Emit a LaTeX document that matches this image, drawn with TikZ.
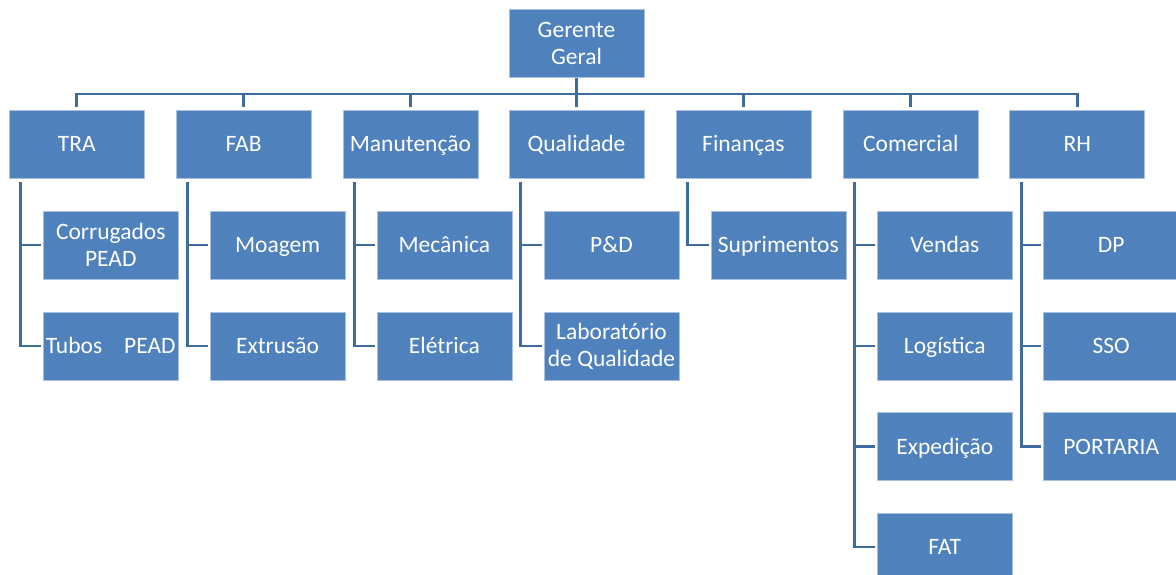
\documentclass[tikz,border=0pt]{standalone}
\usepackage{fontspec}
\setmainfont{Carlito}
\definecolor{boxblue}{HTML}{4F81BD}
\definecolor{boxedge}{HTML}{A9C0DE}
\definecolor{linkblue}{HTML}{3F6C9F}
\begin{document}
\begin{tikzpicture}[x=1pt,y=-1pt,
  orgbase/.style={rectangle, fill=boxblue, draw=boxedge, line width=0.8pt,
    minimum width=135pt, minimum height=68pt, inner sep=0pt, align=center,
    text=white, font=\fontsize{23.5}{27}\selectfont},
  orgbox/.style={orgbase, text height=20pt, text depth=5pt},
  orgtwo/.style={orgbase},
  conn/.style={draw=linkblue, line width=2.9pt},
  up/.style={shorten >=3pt},
  side/.style={shorten <=3pt, shorten >=2pt}]
\useasboundingbox (0,0) rectangle (1176,575);
\clip (0,0) rectangle (1176,575);
\coordinate (busy) at (0,94);
% nodes
\node[orgtwo] (g) at (576.5,43.8) {Gerente\\Geral};
\node[orgbox] (tra) at (76.8,144.5) {TRA};
\node[orgbox] (fab) at (243.6,144.5) {FAB};
\node[orgbox] (man) at (410.4,144.5) {Manutenção};
\node[orgbox] (qua) at (576.5,144.5) {Qualidade};
\node[orgbox] (fin) at (743.4,144.5) {Finanças};
\node[orgbox] (com) at (910.8,144.5) {Comercial};
\node[orgbox] (rh) at (1077.2,144.5) {RH};
% children
\node[orgtwo] (tra1) at (110.8,245) {Corrugados\\PEAD};
\node[orgbox] (tra2) at (110.8,346) {Tubos\hspace{22pt}PEAD};
\node[orgbox] (fab1) at (277.6,245) {Moagem};
\node[orgbox] (fab2) at (277.6,346) {Extrusão};
\node[orgbox] (man1) at (444.4,245) {Mecânica};
\node[orgbox] (man2) at (444.4,346) {Elétrica};
\node[orgbox] (qua1) at (611.5,245) {P\&D};
\node[orgtwo] (qua2) at (611.5,346) {Laboratório\\de Qualidade};
\node[orgbox] (fin1) at (778.4,245) {Suprimentos};
\node[orgbox] (com1) at (944.8,245) {Vendas};
\node[orgbox] (com2) at (944.8,346) {Logística};
\node[orgbox] (com3) at (944.8,446.5) {Expedição};
\node[orgbox] (com4) at (944.8,547) {FAT};
\node[orgbox] (rh1) at (1111.2,245) {DP};
\node[orgbox] (rh2) at (1111.2,346) {SSO};
\node[orgbox] (rh3) at (1111.2,446.5) {PORTARIA};
% top connectors
\foreach \n in {tra,fab,man,qua,fin,com,rh}{
  \draw[conn,up] (g.south) |- (\n.north |- busy) -- (\n.north);
}
% child connectors
\foreach \p/\c in {tra/tra1,tra/tra2,fab/fab1,fab/fab2,man/man1,man/man2,qua/qua1,qua/qua2,fin/fin1,com/com1,com/com2,com/com3,com/com4,rh/rh1,rh/rh2,rh/rh3}{
  \draw[conn,side] ([xshift=12pt]\p.south west) |- (\c.west);
}
\end{tikzpicture}
\end{document}
